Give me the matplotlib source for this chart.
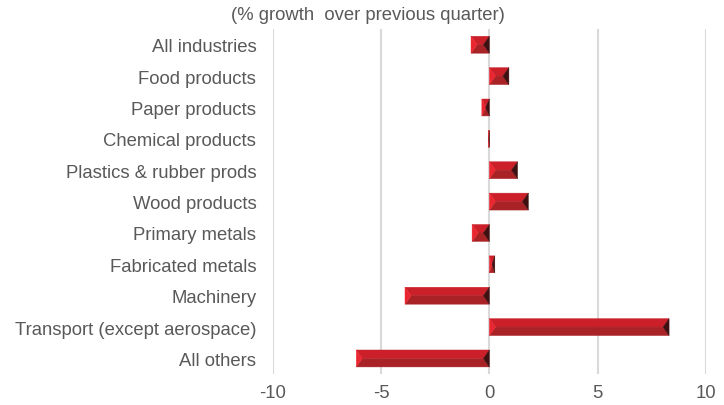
import matplotlib
matplotlib.use("Agg")
import matplotlib.pyplot as plt
from matplotlib.patches import Polygon

plt.rcParams['font.family'] = ['Liberation Sans', 'DejaVu Sans']

categories = [
    "All industries", "Food products", "Paper products", "Chemical products",
    "Plastics & rubber prods", "Wood products", "Primary metals",
    "Fabricated metals", "Machinery", "Transport (except aerospace)", "All others",
]
growth = [-0.85, 0.9, -0.35, -0.05, 1.3, 1.8, -0.8, 0.25, -3.9, 8.3, -6.15]
xticks = [-10, -5, 0, 5, 10]
title = "(% growth  over previous quarter)"

TEXT = "#595959"
C_LEFT = "#ea2630"
C_TOP = "#cb1f29"
C_BOT = "#a82226"
C_RIGHT = "#3f1011"

fig = plt.figure(figsize=(7.24, 4.06), dpi=100)
ax = fig.add_axes([0.377, 0.076, 0.598, 0.85])

bar_h = 0.54
bevel = 0.28  # bevel depth in data units

for i, v in enumerate(growth):
    x0, x1 = min(0, v), max(0, v)
    y0, y1 = i - bar_h / 2, i + bar_h / 2
    yc = i
    b = min(bevel, (x1 - x0) / 2)
    # upper and lower faces (y axis is inverted, so y0 is the upper edge)
    ax.add_patch(Polygon([(x0, y0), (x1, y0), (x1 - b, yc), (x0 + b, yc)],
                         closed=True, fc=C_TOP, ec=C_TOP, lw=0.3, zorder=3))
    ax.add_patch(Polygon([(x0, y1), (x1, y1), (x1 - b, yc), (x0 + b, yc)],
                         closed=True, fc=C_BOT, ec=C_BOT, lw=0.3, zorder=3))
    # end faces
    ax.add_patch(Polygon([(x0, y0), (x0 + b, yc), (x0, y1)],
                         closed=True, fc=C_LEFT, ec=C_LEFT, lw=0.3, zorder=4))
    ax.add_patch(Polygon([(x1, y0), (x1 - b, yc), (x1, y1)],
                         closed=True, fc=C_RIGHT, ec=C_RIGHT, lw=0.3, zorder=4))

ax.set_xlim(-10, 10)
ax.set_ylim(len(categories) - 0.5, -0.5)
ax.set_xticks(xticks)
ax.set_xticklabels([str(t) for t in xticks])
ax.set_yticks(range(len(categories)))
ax.set_yticklabels(categories)
ax.tick_params(axis="both", length=0, labelsize=13.3, labelcolor=TEXT)
ax.tick_params(axis="x", pad=7)
ax.tick_params(axis="y", pad=12)
ax.grid(axis="x", color="#d9d9d9", lw=1.5, zorder=0)
ax.set_axisbelow(True)
for s in ax.spines.values():
    s.set_visible(False)

fig.text(0.508, 0.962, title, ha="center", va="center", fontsize=13.3, color=TEXT)

fig.savefig("out.png", dpi=100, facecolor="white")
